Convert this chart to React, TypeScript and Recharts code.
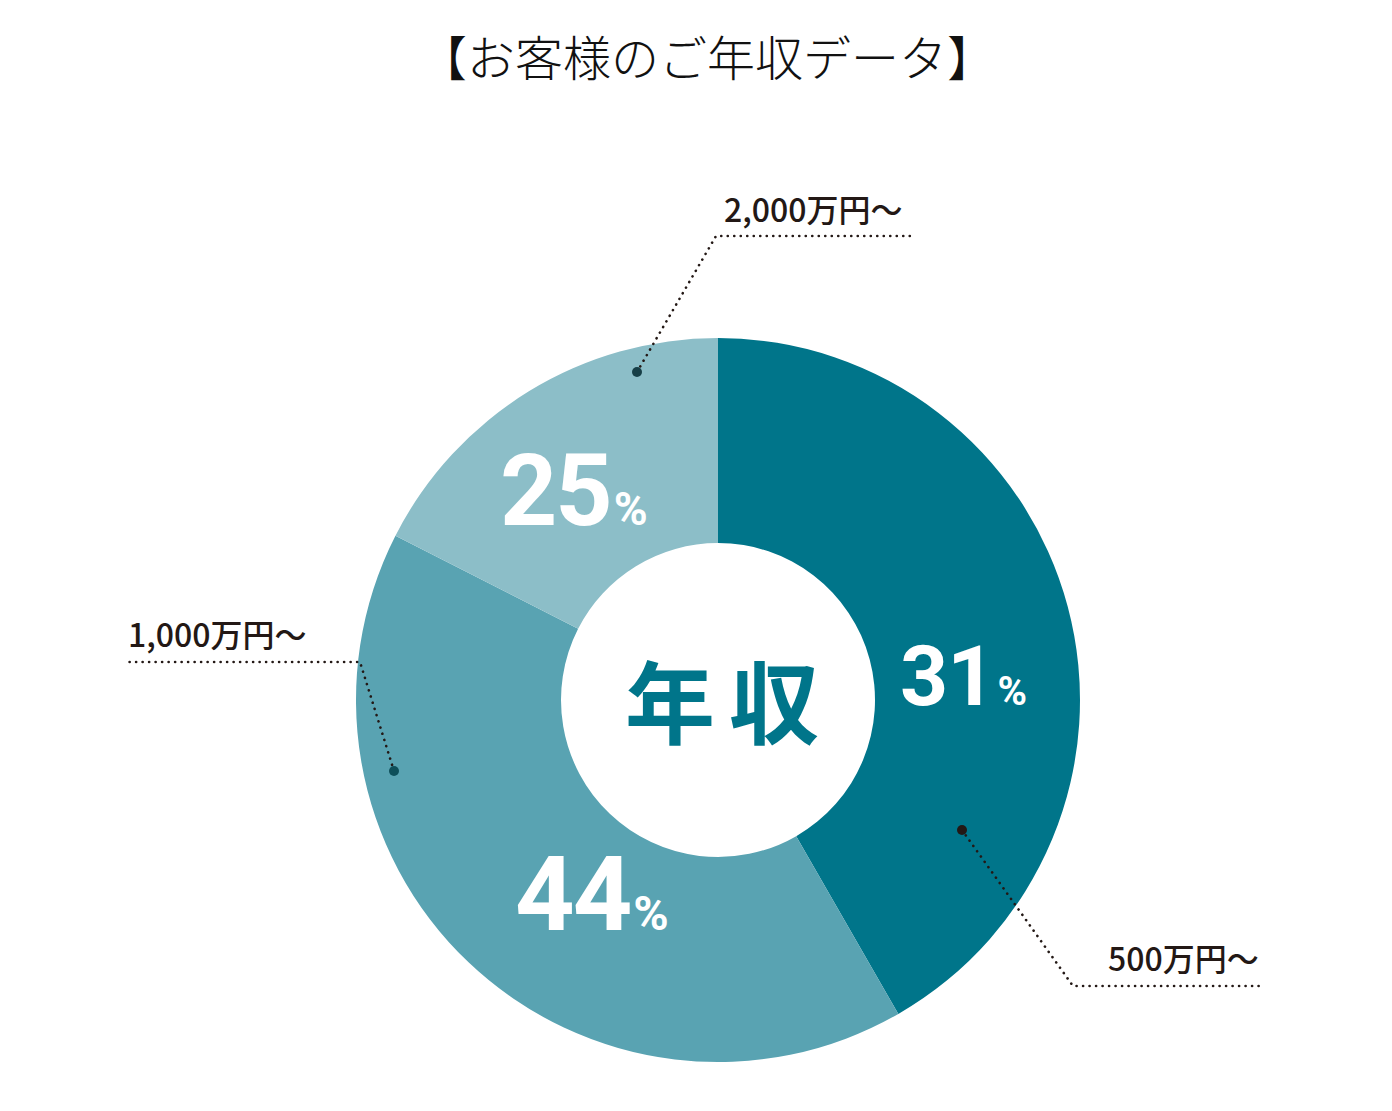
import React from 'react'
import { PieChart, Pie, Cell } from 'recharts'

// slice sizes as drawn (angles)
const segments = ['500万円〜', '1,000万円〜', '2,000万円〜']
const sliceValues = [41.7, 40.8, 17.5]
const percentLabels = ['31', '44', '25']
const sliceColors = ['#00758A', '#59A3B2', '#8CBEC8']

const TITLE = '【お客様のご年収データ】'
const CENTER_TEXT = '年収'

const CX = 718
const CY = 700

// offsets from the pie centre for the percent text and the leader lines
const PERCENT_LAYOUT = [
  { x: 182, y: 5, size: 84, pct: 40, ls: -1 },
  { x: -203, y: 230, size: 104, pct: 48, ls: -2 },
  { x: -218, y: -175, size: 100, pct: 46, ls: -2 }
]

const LEADER_LAYOUT = [
  { dot: [244, 130], elbow: [355, 286], end: [542, 286], text: [390, 271], dotColor: '#231815' },
  { dot: [-324, 71], elbow: [-358, -38], end: [-591, -38], text: [-590, -53], dotColor: '#0E4F5A' },
  { dot: [-81, -328], elbow: [-2, -464], end: [194, -464], text: [6, -478], dotColor: '#173F47' }
]

const data = segments.map((name, i) => ({ name, value: sliceValues[i], pct: percentLabels[i] }))

const JP = '"Noto Sans CJK JP", "Noto Sans", sans-serif'

const renderLabel = (props: any) => {
  const { cx, cy, index } = props
  const p = PERCENT_LAYOUT[index]
  const l = LEADER_LAYOUT[index]
  const pts = [l.dot, l.elbow, l.end].map(([dx, dy]) => `${cx + dx},${cy + dy}`).join(' ')
  return (
    <g key={`lbl-${index}`}>
      <polyline
        points={pts}
        fill="none"
        stroke="#231815"
        strokeWidth={2.6}
        strokeDasharray="0.1 6.4"
        strokeLinecap="round"
      />
      <circle cx={cx + l.dot[0]} cy={cy + l.dot[1]} r={5} fill={l.dotColor} />
      <text
        x={cx + l.text[0]}
        y={cy + l.text[1]}
        fill="#231815"
        fontFamily={JP}
        fontWeight={500}
        fontSize={32}
      >
        {segments[index]}
      </text>
      <text
        x={cx + p.x}
        y={cy + p.y}
        fill="#ffffff"
        fontFamily='Roboto, "Noto Sans", sans-serif'
        fontWeight={700}
      >
        <tspan fontSize={p.size} letterSpacing={p.ls}>{percentLabels[index]}</tspan>
        <tspan fontSize={p.pct} dx={3}>%</tspan>
      </text>
    </g>
  )
}

export default function App() {
  return (
    <div style={{ position: 'absolute', left: 0, top: 0, width: 1392, height: 1111, background: '#fff' }}>
      <PieChart width={1392} height={1111} margin={{ top: 0, right: 0, bottom: 0, left: 0 }}>
        <text
          x={707}
          y={55}
          textAnchor="middle"
          dominantBaseline="central"
          fontFamily={JP}
          fontWeight={300}
          fontSize={48}
          fill="#111"
        >
          {TITLE}
        </text>
        <Pie
          data={data}
          dataKey="value"
          nameKey="name"
          cx={CX}
          cy={CY}
          innerRadius={157}
          outerRadius={362}
          startAngle={90}
          endAngle={-270}
          stroke="none"
          label={renderLabel}
          labelLine={false}
          isAnimationActive={false}
        >
          {data.map((d, i) => (
            <Cell key={d.name} fill={sliceColors[i]} />
          ))}
        </Pie>
        <text
          x={729}
          y={698}
          textAnchor="middle"
          dominantBaseline="central"
          fontFamily={JP}
          fontWeight={700}
          fontSize={90}
          letterSpacing={14}
          fill="#00758A"
        >
          {CENTER_TEXT}
        </text>
      </PieChart>
    </div>
  )
}
